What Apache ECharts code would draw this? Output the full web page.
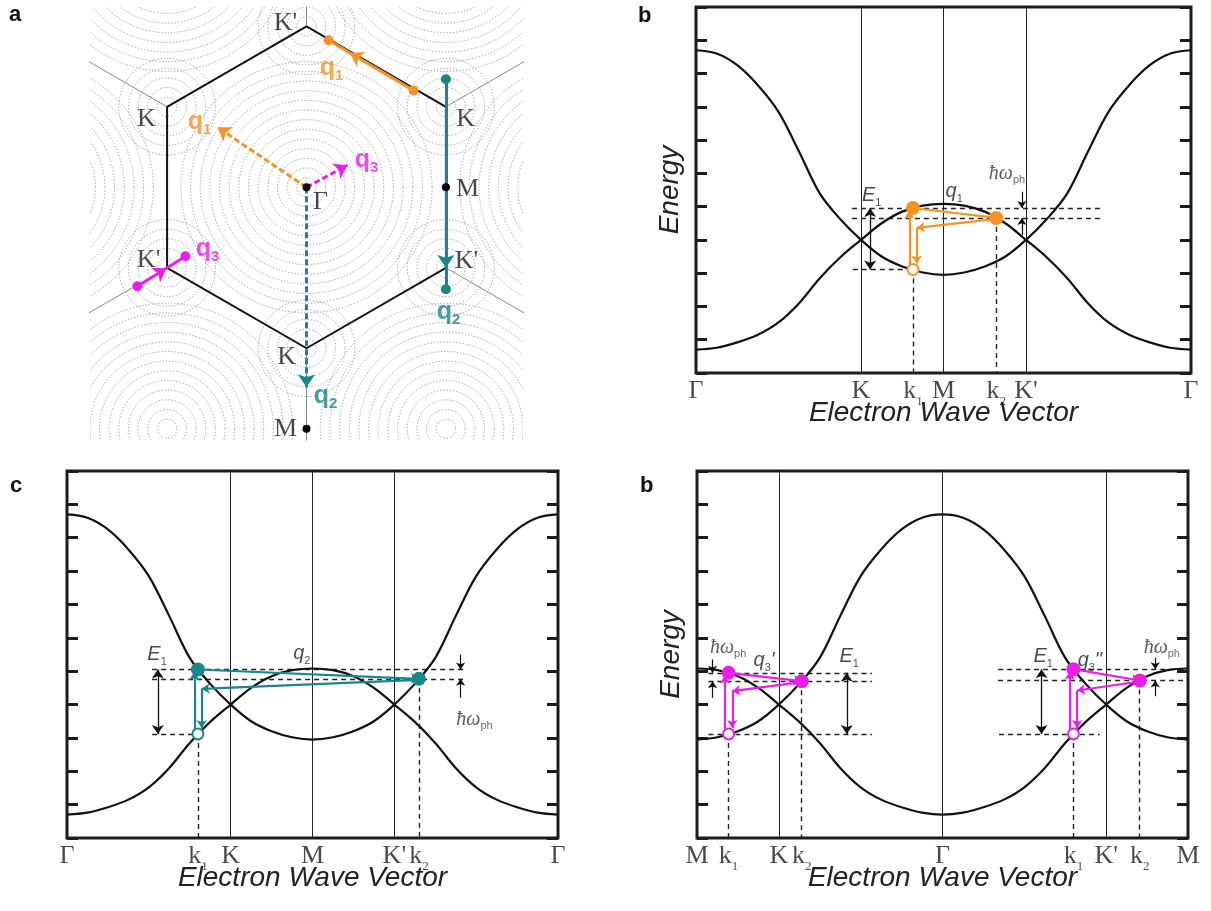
<!DOCTYPE html>
<html><head><meta charset="utf-8">
<script src="https://cdn.jsdelivr.net/npm/echarts@6.0.0/dist/echarts.min.js"></script>
<style>html,body{margin:0;padding:0;background:#fff}#c{width:1211px;height:911px}</style>
</head><body><div id="c"></div>
<script>
// ================= DATA =================
// band structure sampled along Γ -> K -> M (distance s, Γ=0, K=2, M=3)
const pathS = [0, 0.25, 0.5, 0.75, 1, 1.25, 1.5, 1.75, 2, 2.25, 2.5, 2.75, 3];
const bandA = [9.70, 9.60, 9.25, 8.65, 7.85, 6.65, 5.40, 4.62, 4.00, 3.50, 3.20, 3.02, 2.95]; // Γ top -> K -> M bottom
const bandB = [0.70, 0.76, 0.92, 1.15, 1.52, 2.10, 2.85, 3.48, 4.00, 4.50, 4.85, 5.03, 5.08]; // Γ bottom -> K -> M top

// high-symmetry tick labels
const ticksB = ['Γ', 'K', 'M', "K'", 'Γ'];   const tickPosB = [0, 2, 3, 4, 6];
const ticksC = ['Γ', 'K', 'M', "K'", 'Γ'];   const tickPosC = [0, 2, 3, 4, 6];
const ticksD = ['M', 'K', 'Γ', "K'", 'M'];   const tickPosD = [0, 1, 3, 5, 6];

// scattering states: [k1, k2] and energies [top, middle, bottom]
const bKs = [2.63, 3.64];    const bEs = [4.96, 4.66, 3.11];
const cKs = [1.60, 4.30];    const cEs = [5.05, 4.77, 3.12];
const dLKs = [0.386, 1.28];  const dLEs = [4.95, 4.70, 3.12];
const dRKs = [4.60, 5.41];   const dREs = [5.06, 4.72, 3.12];

// Brillouin zone (panel a), units of Γ-K distance
const hexVerts = [[0, 1], [0.866, 0.5], [0.866, -0.5], [0, -1], [-0.866, -0.5], [-0.866, 0.5]];
const gammaCenters = [[0, 0], [1.732, 0], [0.866, 1.5], [-0.866, 1.5], [-1.732, 0], [-0.866, -1.5], [0.866, -1.5]];
const gammaRadii = [0.06, 0.12, 0.18, 0.24, 0.30, 0.36, 0.42, 0.48, 0.54, 0.60, 0.66, 0.72, 0.78];
const kRadii = [0.06, 0.12, 0.18, 0.24, 0.30];
const blackDots = [[0, 0], [0.866, 0], [0, -1.5]];
const q1Solid = [[0.665, 0.602], [0.27, 0.835], [0.137, 0.913]];
const q3Solid = [[-1.05, -0.615], [-0.87, -0.503], [-0.752, -0.429]];
const q2Solid = [[0.866, 0.671], [0.866, -0.5], [0.866, -0.634]];
const q1Dash = [[0, 0], [-0.553, 0.373]];
const q3Dash = [[0, 0], [0.255, 0.137]];
const q2Dash = [[0, 0], [0, -1.242]];
const aPointNames = ["K'", 'K', "K'", 'K', 'M', 'Γ', 'K', 'M', "K'"];
const aPointPos = [[-0.13, 1.019], [-0.994, 0.422], [-0.981, -0.453], [-0.124, -1.056], [-0.13, -1.503], [0.087, -0.093], [0.988, 0.422], [1.0, -0.012], [0.994, -0.46]];

// ================= STYLE =================
const C_OR = '#f39325', C_TE = '#17878b', C_MA = '#ea1ee8', INK = '#1c1c1c';
const SANS = 'Liberation Sans, Arial, Helvetica, sans-serif';
const SERIF = 'Liberation Serif, Times New Roman, serif';
const RICH = {
  ax: {fontFamily: SERIF, fontSize: 26, lineHeight: 34, color: INK},
  axs: {fontFamily: SERIF, fontSize: 13, lineHeight: 13, verticalAlign: 'bottom', color: INK},
  e: {fontFamily: SANS, fontStyle: 'italic', fontSize: 20, lineHeight: 26, color: INK},
  es: {fontFamily: SANS, fontSize: 11, lineHeight: 11, verticalAlign: 'bottom', color: INK},
  hw: {fontFamily: SERIF, fontStyle: 'italic', fontSize: 20, lineHeight: 24, color: '#333'},
  ph: {fontFamily: SANS, fontSize: 11, lineHeight: 11, verticalAlign: 'bottom', color: '#444'},
  lp: {fontFamily: SERIF, fontSize: 26, lineHeight: 30, color: INK}
};
function qRich(color) {
  return {
    q: {fontFamily: SANS, fontWeight: 'bold', fontSize: 25, lineHeight: 30, color: color},
    qs: {fontFamily: SANS, fontWeight: 'bold', fontSize: 15, lineHeight: 15, verticalAlign: 'bottom', color: color}
  };
}

// ================= BUILD =================
const grids = [], xAxes = [], yAxes = [], series = [];

function bandPts(vals, layout) {
  const n = pathS.length, pts = [];
  if (layout === 'G') {
    for (let i = 0; i < n; i++) pts.push([pathS[i], vals[i]]);
    for (let i = n - 2; i >= 0; i--) pts.push([6 - pathS[i], vals[i]]);
  } else {
    for (let i = n - 1; i >= 0; i--) pts.push([3 - pathS[i], vals[i]]);
    for (let i = 1; i < n; i++) pts.push([3 + pathS[i], vals[i]]);
  }
  return pts;
}
function axLabel(t) {
  return t[0] === 'k' ? '{ax|k}{axs|' + t.slice(1) + '}' : '{ax|' + t + '}';
}
function textSeries(xi, yi, items, rich) {
  return {type: 'scatter', xAxisIndex: xi, yAxisIndex: yi, symbolSize: 0, silent: true, clip: false, z: 10,
    data: items.map(it => ({value: it[1], label: {formatter: it[0]}})),
    label: {show: true, position: 'inside', rich: rich}};
}
function linesS(xi, yi, segs, style, symbol, size, z) {
  return {type: 'lines', coordinateSystem: 'cartesian2d', xAxisIndex: xi, yAxisIndex: yi, silent: true, z: z || 5,
    symbol: symbol || 'none', symbolSize: size || 8, lineStyle: Object.assign({opacity: 1, curveness: 0}, style), polyline: false,
    data: segs.map(s => ({coords: s}))};
}

function bandPanel(gi, box, layout, ticks, tickPos, kLabels, kPos, withEnergy) {
  grids.push({left: box[0], top: box[1], width: box[2], height: box[3], show: true, borderColor: INK, borderWidth: 3, backgroundColor: 'transparent'});
  const xi = xAxes.length, yi = yAxes.length;
  xAxes.push({gridIndex: gi, type: 'value', min: 0, max: 6, axisLine: {show: false}, axisTick: {show: false}, axisLabel: {show: false}, splitLine: {show: false},
    name: 'Electron Wave Vector', nameLocation: 'middle', nameGap: 26,
    nameTextStyle: {fontFamily: SANS, fontStyle: 'italic', fontSize: 28, color: '#222'}});
  ['left', 'right'].forEach(p => yAxes.push({gridIndex: gi, type: 'value', position: p, min: 0, max: 11, interval: 1,
    axisLine: {show: false}, axisLabel: {show: false}, splitLine: {show: false},
    axisTick: {show: true, inside: true, length: 11, lineStyle: {color: INK, width: 3}},
    name: (p === 'left' && withEnergy) ? 'Energy' : '', nameLocation: 'middle', nameGap: 12, nameRotate: 90,
    nameTextStyle: {fontFamily: SANS, fontStyle: 'italic', fontSize: 28, color: '#222'}}));
  const inner = tickPos.slice(1, -1);
  series.push(linesS(xi, yi, inner.map(x => [[x, 0], [x, 11]]), {color: '#222', width: 1}, 'none', 0, 2));
  [bandA, bandB].forEach(v => series.push({type: 'line', xAxisIndex: xi, yAxisIndex: yi, data: bandPts(v, layout), showSymbol: false,
    smooth: 0.35, silent: true, z: 3, lineStyle: {color: '#111', width: 2.2}}));
  const labs = ticks.map((t, i) => [t, tickPos[i]]).concat(kLabels.map((t, i) => [t, kPos[i]]));
  series.push({type: 'scatter', xAxisIndex: xi, yAxisIndex: yi, symbolSize: 0, silent: true, clip: false, z: 10,
    data: labs.map(l => ({value: [l[1], 0], label: {formatter: axLabel(l[0])}})),
    label: {show: true, position: 'bottom', distance: 1, rich: RICH}});
  return [xi, yi];
}

function loop(xi, yi, ks, es, color, lay) {
  const k1 = ks[0], k2 = ks[1], eT = es[0], eM = es[1], eB = es[2], d = 0.045, eR = eM - 0.3;
  series.push(linesS(xi, yi, [
    [[lay.dashL, eT], [lay.dashR, eT]], [[lay.dashL, eM], [lay.dashR, eM]], [[lay.botL, eB], [lay.botR, eB]],
    [[k1, eB], [k1, 0]], [[k2, eM], [k2, 0]]], {color: '#222', width: 1.4, type: [5, 4]}, 'none', 0, 2));
  series.push(linesS(xi, yi, [[[lay.e1x, eT], [lay.e1x, eB]]], {color: '#111', width: 1.3}, ['arrow', 'arrow'], 9, 4));
  series.push(linesS(xi, yi, [[[lay.hx, lay.hTop], [lay.hx, eT]], [[lay.hx, lay.hBot], [lay.hx, eM]]], {color: '#111', width: 1.2}, ['none', 'arrow'], 7, 4));
  series.push(linesS(xi, yi, [
    [[k1 - d, eB + 0.15], [k1 - d, eT - 0.08]],
    [[k1, eT], [k2, eM]],
    [[k2, eM - 0.03], [k1 + d, eR]],
    [[k1 + d, eR], [k1 + d, eB + 0.18]]], {color: color, width: 2.2}, ['none', 'arrow'], 8, 6));
  series.push({type: 'scatter', xAxisIndex: xi, yAxisIndex: yi, silent: true, z: 7, symbolSize: 14,
    itemStyle: {color: color, opacity: 1}, data: [[k1, eT], [k2, eM]]});
  series.push({type: 'scatter', xAxisIndex: xi, yAxisIndex: yi, silent: true, z: 7, symbolSize: 11,
    itemStyle: {color: '#fff', borderColor: color, borderWidth: 2, opacity: 1}, data: [[k1, eB]]});
}

// ---------- panel a ----------
grids.push({left: 90, top: 7, width: 433, height: 433});
xAxes.push({gridIndex: 0, type: 'value', min: -1.345, max: 1.345, show: false});
yAxes.push({gridIndex: 0, type: 'value', min: -1.57, max: 1.12, show: false});
const circleData = [];
gammaCenters.forEach(c => gammaRadii.forEach(r => circleData.push([c[0], c[1], r])));
hexVerts.forEach(c => kRadii.forEach(r => circleData.push([c[0], c[1], r])));
series.push({type: 'custom', xAxisIndex: 0, yAxisIndex: 0, silent: true, z: 1, data: circleData,
  renderItem: function (params, api) {
    const c = api.coord([api.value(0), api.value(1)]);
    const r = api.size([api.value(2), 0])[0];
    const cs = params.coordSys;
    return {type: 'group', clipPath: {type: 'rect', shape: {x: cs.x, y: cs.y, width: cs.width, height: cs.height}},
      children: [{type: 'circle', shape: {cx: c[0], cy: c[1], r: r},
        style: {fill: 'none', stroke: '#9c9c9c', lineWidth: 1, lineDash: [1.3, 1.9]}}]};
  }});
series.push(linesS(0, 0, hexVerts.map(v => [v, [2 * v[0], 2 * v[1]]]), {color: '#8a8a8a', width: 1}, 'none', 0, 2));
series.push({type: 'line', xAxisIndex: 0, yAxisIndex: 0, data: hexVerts.concat([hexVerts[0]]), showSymbol: false, silent: true, z: 3,
  lineStyle: {color: '#111', width: 2}});
[[q1Dash, C_OR], [q3Dash, C_MA], [q2Dash, C_TE]].forEach(p =>
  series.push(linesS(0, 0, [p[0]], {color: p[1], width: 3, type: [6, 3]}, ['none', 'arrow'], 13, 5)));
[[q1Solid, C_OR], [q3Solid, C_MA], [q2Solid, C_TE]].forEach(p => {
  series.push(linesS(0, 0, [[p[0][0], p[0][1]]], {color: p[1], width: 3}, ['none', 'arrow'], 13, 5));
  series.push(linesS(0, 0, [[p[0][1], p[0][2]]], {color: p[1], width: 3}, 'none', 0, 5));
  series.push({type: 'scatter', xAxisIndex: 0, yAxisIndex: 0, silent: true, z: 6, symbolSize: 10,
    itemStyle: {color: p[1], opacity: 1}, data: [p[0][0], p[0][2]]});
});
series.push({type: 'scatter', xAxisIndex: 0, yAxisIndex: 0, silent: true, z: 7, symbolSize: 8, itemStyle: {color: '#000', opacity: 1}, data: blackDots});
series.push(textSeries(0, 0, aPointNames.map((n, i) => ['{lp|' + n + '}', aPointPos[i]]), RICH));
series.push(textSeries(0, 0, [['{q|q}{qs|1}', [0.155, 0.739]], ['{q|q}{qs|1}', [-0.665, 0.404]]], qRich(C_OR)));
series.push(textSeries(0, 0, [['{q|q}{qs|3}', [0.373, 0.168]], ['{q|q}{qs|3}', [-0.615, -0.385]]], qRich(C_MA)));
series.push(textSeries(0, 0, [['{q|q}{qs|2}', [0.882, -0.776]], ['{q|q}{qs|2}', [0.118, -1.298]]], qRich(C_TE)));

// ---------- panel b ----------
let ax = bandPanel(1, [696, 7, 495, 366], 'G', ticksB, tickPosB, ['k1', 'k2'], bKs, true);
loop(ax[0], ax[1], bKs, bEs, C_OR, {dashL: 1.89, dashR: 4.9, botL: 1.9, botR: bKs[0], e1x: 2.11, hx: 3.95, hTop: 5.45, hBot: 4.15});
series.push(textSeries(ax[0], ax[1], [['{e|E}{es|1}', [2.13, 5.35]], ['{e|q}{es|1}', [3.13, 5.47]], ['{hw|ħω}{ph|ph}', [3.77, 6.0]]], RICH));

// ---------- panel c ----------
ax = bandPanel(2, [67, 471, 491, 367], 'G', ticksC, tickPosC, ['k1', 'k2'], cKs, false);
loop(ax[0], ax[1], cKs, cEs, C_TE, {dashL: 1.04, dashR: 4.88, botL: 1.04, botR: cKs[0], e1x: 1.11, hx: 4.81, hTop: 5.5, hBot: 4.2});
series.push(textSeries(ax[0], ax[1], [['{e|E}{es|1}', [1.1, 5.5]], ['{e|q}{es|2}', [2.87, 5.53]], ['{hw|ħω}{ph|ph}', [4.98, 3.55]]], RICH));

// ---------- panel d ----------
ax = bandPanel(3, [697, 471, 491, 367], 'M', ticksD, tickPosD, ['k1', 'k2', 'k1', 'k2'], dLKs.concat(dRKs), true);
loop(ax[0], ax[1], dLKs, dLEs, C_MA, {dashL: 0.14, dashR: 2.14, botL: 0.14, botR: 2.14, e1x: 1.83, hx: 0.19, hTop: 5.35, hBot: 4.2});
loop(ax[0], ax[1], dRKs, dREs, C_MA, {dashL: 3.68, dashR: 6.0, botL: 3.69, botR: 4.92, e1x: 4.21, hx: 5.6, hTop: 5.4, hBot: 4.25});
series.push(textSeries(ax[0], ax[1], [['{e|E}{es|1}', [1.86, 5.43]], ["{e|q}{es|3}{e|'}", [0.82, 5.33]], ['{hw|ħω}{ph|ph}', [0.38, 5.7]],
  ['{e|E}{es|1}', [4.23, 5.43]], ['{e|q}{es|3}{e|"}', [4.8, 5.33]], ['{hw|ħω}{ph|ph}', [5.68, 5.7]]], RICH));

const letter = (t, x, y) => ({type: 'text', left: x, top: y, style: {text: t, font: 'bold 22px ' + SANS, fill: '#111'}});
const chart = echarts.init(document.getElementById('c'));
chart.setOption({
  animation: false, backgroundColor: '#fff',
  grid: grids, xAxis: xAxes, yAxis: yAxes, series: series,
  graphic: [letter('a', 9, 4), letter('b', 638, 5), letter('c', 10, 475), letter('b', 640, 475)]
});
</script></body></html>
